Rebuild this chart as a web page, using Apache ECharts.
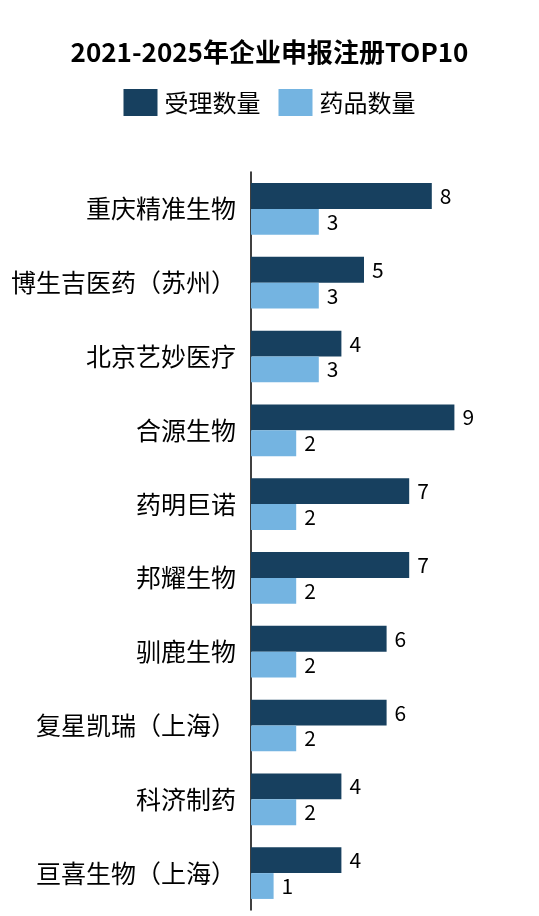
<!DOCTYPE html>
<html><head><meta charset="utf-8">
<script src="https://cdn.jsdelivr.net/npm/echarts@6/dist/echarts.min.js"></script>
<style>html,body{margin:0;padding:0;background:#fff}#c{width:539px;height:916px}</style>
</head><body><div id="c"></div>
<script>
var categories = ['重庆精准生物','博生吉医药（苏州）','北京艺妙医疗','合源生物','药明巨诺','邦耀生物','驯鹿生物','复星凯瑞（上海）','科济制药','亘喜生物（上海）'];
var acceptCount = [8,5,4,9,7,7,6,6,4,4];
var drugCount = [3,3,3,2,2,2,2,2,2,1];
var seriesNames = ['受理数量','药品数量'];

var font = '"Noto Sans CJK SC", "Noto Sans", sans-serif';
var chart = echarts.init(document.getElementById('c'));
chart.setOption({
  animation: false,
  title: {
    text: '2021-2025年企业申报注册TOP10',
    left: 'center', top: 34,
    textStyle: {fontFamily: font, fontSize: 26, fontWeight: 'bold', color: '#000'}
  },
  legend: {
    data: seriesNames, top: 84, left: 'center',
    itemWidth: 34, itemHeight: 27, itemGap: 18,
    textStyle: {fontFamily: font, fontSize: 24, color: '#000', padding: [0, 0, 0, 2]},
    icon: 'rect'
  },
  grid: {left: 251, right: 62, top: 172, bottom: 6, containLabel: false},
  xAxis: {
    type: 'value', min: 0, max: 10, show: false
  },
  yAxis: {
    type: 'category', data: categories, inverse: true,
    axisLine: {show: true, lineStyle: {color: '#000', width: 1.5}},
    axisTick: {show: false},
    axisLabel: {fontFamily: font, fontSize: 25, color: '#000', margin: 15}
  },
  series: [
    {name: seriesNames[0], type: 'bar', data: acceptCount, barGap: '0%', barCategoryGap: '30%',
     itemStyle: {color: '#17405f'},
     label: {show: true, position: 'right', distance: 8, fontFamily: font, fontSize: 21, color: '#000'}},
    {name: seriesNames[1], type: 'bar', data: drugCount,
     itemStyle: {color: '#74b4e1'},
     label: {show: true, position: 'right', distance: 8, fontFamily: font, fontSize: 21, color: '#000'}}
  ]
});
</script></body></html>
